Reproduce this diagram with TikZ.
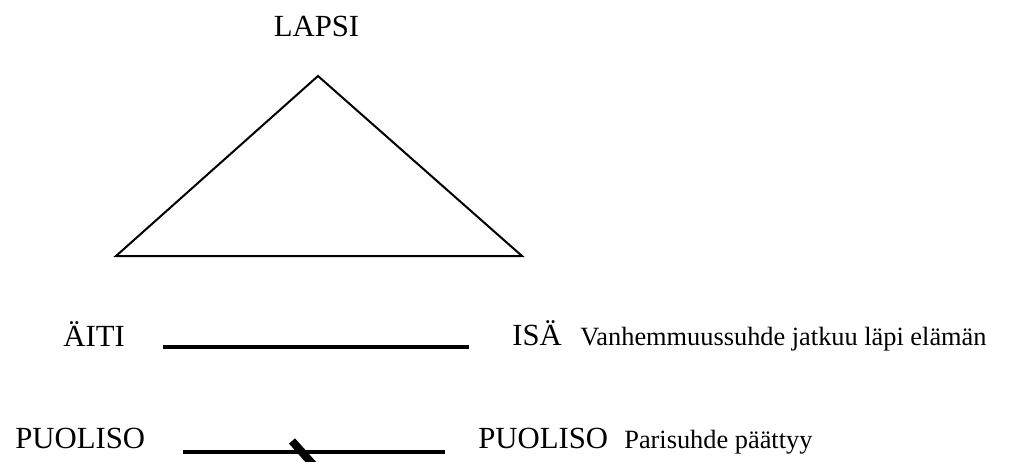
\documentclass[tikz,border=0pt]{standalone}
\usepackage{fontspec}
\setmainfont{Liberation Serif}
\usepackage{tikz}
\usetikzlibrary{calc}

\tikzset{
  bigname/.style={inner sep=0pt, font=\fontsize{17.5}{20}\selectfont},
  smallname/.style={inner sep=0pt, font=\fontsize{15}{18}\selectfont},
}

\begin{document}
\begin{tikzpicture}[x=0.02cm, y=-0.02cm]
            \useasboundingbox (0,0) rectangle (1009,461);

            % Corners of the triangle
            \coordinate (C) at (318,76);
            \coordinate (A) at (116,256);
            \coordinate (B) at (522,256);

            % Drawing triangle A B C
            \draw [line width=0.04cm, line join=miter] (A) -- (B) -- (C) -- cycle;%

            % Child on top
            \node (lapsi) [bigname, anchor=base] at (316.5,36) {LAPSI};%

            % Mother and father
            \node (aiti) [bigname, anchor=base west] at (63,346) {ÄITI};%
            \node (isa) [bigname, anchor=base west] at (512,345) {ISÄ};%
            \node (vanh) [smallname, anchor=base west] at (580,345) {Vanhemmuussuhde jatkuu läpi elämän};%

            % Drawing segment P Q
            \coordinate (P) at (163,347);
            \coordinate (Q) at (469,347);
            \draw [line width=0.09cm] (P) -- (Q);%

            % Spouses
            \node (puoA) [bigname, anchor=base west] at (15,448) {PUOLISO};%
            \node (puoB) [bigname, anchor=base west] at (478,448) {PUOLISO};%
            \node (pari) [smallname, anchor=base west] at (624,448) {Parisuhde päättyy};%

            % Drawing segment R S
            \coordinate (R) at (183,452);
            \coordinate (S) at (445,452);
            \draw [line width=0.07cm] (R) -- (S);%

            % Drawing the break mark T U
            \coordinate (T) at (292,441);
            \coordinate (U) at (318,470);
            \draw [line width=0.16cm] (T) -- (U);%
\end{tikzpicture}
\end{document}
